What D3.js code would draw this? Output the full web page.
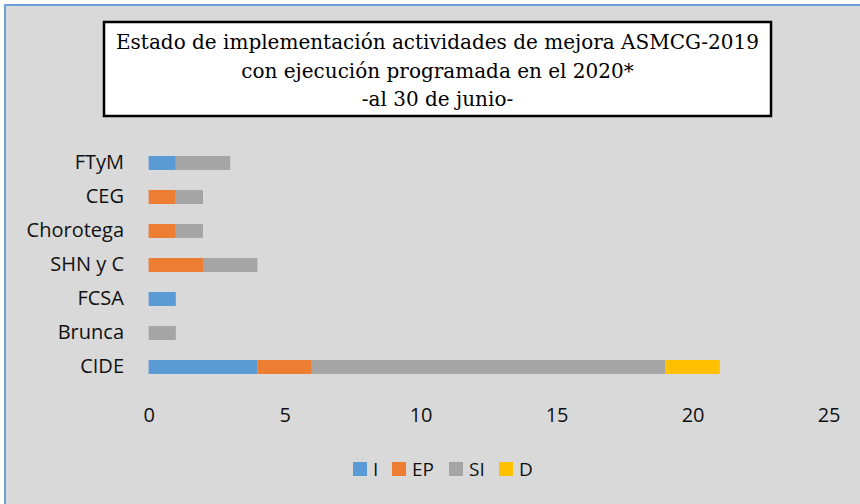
<!DOCTYPE html>
<html>
<head>
<meta charset="utf-8">
<script src="https://cdn.jsdelivr.net/npm/d3@7"></script>
<style>
  body { margin: 0; background: #fff; }
  svg { display: block; }
</style>
</head>
<body>
<div id="chart"></div>
<script>
"use strict";

// data
var categories = ["FTyM", "CEG", "Chorotega", "SHN y C", "FCSA", "Brunca", "CIDE"];
var seriesNames = ["I", "EP", "SI", "D"];
var valI  = [1, 0, 0, 0, 1, 0, 4];
var valEP = [0, 1, 1, 2, 0, 0, 2];
var valSI = [2, 1, 1, 2, 0, 1, 13];
var valD  = [0, 0, 0, 0, 0, 0, 2];
var xTicks = [0, 5, 10, 15, 20, 25];
var titleLines = [
  "Estado de implementación actividades de mejora ASMCG-2019",
  "con ejecución programada en el 2020*",
  "-al 30 de junio-"
];

var colors = {I: "#5b9bd5", EP: "#ed7d31", SI: "#a5a5a5", D: "#ffc000"};

var W = 860, H = 504;

var svg = d3.select("#chart")
  .append("svg")
    .attr("width", W)
    .attr("height", H);

// chart area background + border
svg.append("rect")
  .attr("x", 5).attr("y", 5)
  .attr("width", W + 10).attr("height", H + 10)
  .attr("fill", "#d9d9d9")
  .attr("stroke", "#6a9fd8")
  .attr("stroke-width", 2);

// build table for the stack
var table = categories.map(function(c, i) {
  return {cat: c, I: valI[i], EP: valEP[i], SI: valSI[i], D: valD[i]};
});
var stacked = d3.stack().keys(seriesNames)(table);

var x = d3.scaleLinear()
  .domain([0, 25])
  .range([148.6, 828.6]);

var y = d3.scaleBand()
  .domain(categories)
  .range([146, 384])
  .paddingInner(0.59)
  .paddingOuter(0.295);

var font = "'Open Sans', Lato, sans-serif";

// bars
svg.append("g")
  .selectAll("g")
  .data(stacked)
  .join("g")
    .attr("fill", function(d) { return colors[d.key]; })
  .selectAll("rect")
  .data(function(d) { return d; })
  .join("rect")
    .attr("x", function(d) { return x(d[0]); })
    .attr("y", function(d) { return y(d.data.cat); })
    .attr("width", function(d) { return x(d[1]) - x(d[0]); })
    .attr("height", y.bandwidth());

// category axis
var yAxis = svg.append("g")
  .attr("transform", "translate(148,0)")
  .call(d3.axisLeft(y).tickSize(0).tickPadding(24));
yAxis.select(".domain").remove();
yAxis.selectAll("text")
  .attr("font-family", font)
  .attr("font-size", 20)
  .attr("fill", "#111");

// value axis
var xAxis = svg.append("g")
  .attr("transform", "translate(0,408)")
  .call(d3.axisBottom(x).tickValues(xTicks).tickSize(0).tickPadding(0));
xAxis.select(".domain").remove();
xAxis.selectAll("text")
  .attr("font-family", font)
  .attr("font-size", 20)
  .attr("fill", "#111");

// title box
svg.append("rect")
  .attr("x", 104).attr("y", 22)
  .attr("width", 667).attr("height", 94)
  .attr("fill", "#fff")
  .attr("stroke", "#000")
  .attr("stroke-width", 2.5);

svg.append("g")
  .selectAll("text")
  .data(titleLines)
  .join("text")
    .attr("x", 437.5)
    .attr("y", function(d, i) { return 49 + i * 28.5; })
    .attr("text-anchor", "middle")
    .attr("font-family", "'DejaVu Serif', serif")
    .attr("font-size", 20)
    .attr("fill", "#000")
    .text(function(d) { return d; });

// legend
var legendX = [353, 392, 449, 499];
var legend = svg.append("g")
  .selectAll("g")
  .data(seriesNames)
  .join("g")
    .attr("transform", function(d, i) { return "translate(" + legendX[i] + ",462)"; });
legend.append("rect")
  .attr("width", 14).attr("height", 14)
  .attr("fill", function(d) { return colors[d]; });
legend.append("text")
  .attr("x", 20).attr("y", 14)
  .attr("font-family", font)
  .attr("font-size", 19)
  .attr("fill", "#111")
  .text(function(d) { return d; });
</script>
</body>
</html>
